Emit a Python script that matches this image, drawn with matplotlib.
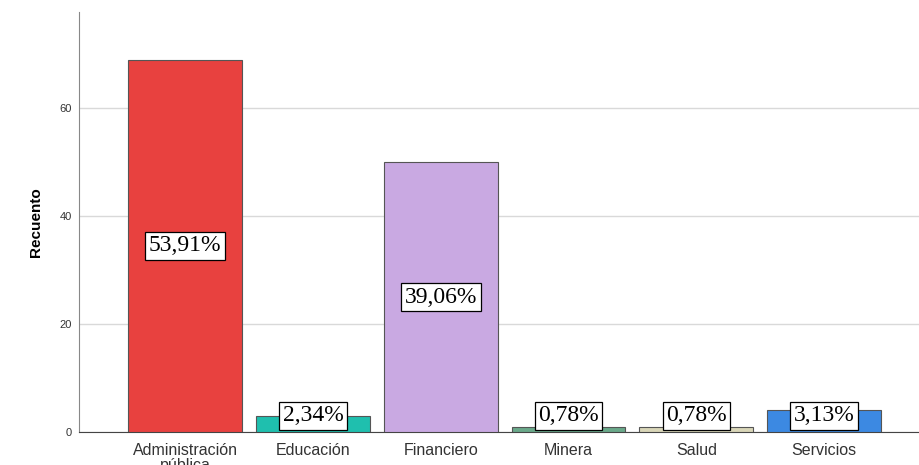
import numpy as np
import matplotlib
matplotlib.use("Agg")
import matplotlib.pyplot as plt

# Recuento por sector
SECTORES = ["Administración\npública", "Educación", "Financiero", "Minera", "Salud", "Servicios"]
RECUENTO = [69, 3, 50, 1, 1, 4]
PORCENTAJES = ["53,91%", "2,34%", "39,06%", "0,78%", "0,78%", "3,13%"]
COLORES = ["#e8413f", "#1fbfae", "#c9a9e2", "#6aa98a", "#d9d6b8", "#3c89e2"]

plt.rcParams["font.family"] = ["Liberation Sans", "DejaVu Sans"]

fig = plt.figure(figsize=(9.2, 4.65), dpi=100)
ax = fig.add_axes([0.086, 0.071, 0.914, 0.903])

xs = np.arange(len(SECTORES))
ax.bar(xs, RECUENTO, width=0.89, color=COLORES, edgecolor="#555555", linewidth=0.8, zorder=3)

for x, v, p in zip(xs, RECUENTO, PORCENTAJES):
    ax.text(x, max(v / 2, 3.0), p, ha="center", va="center", fontsize=17,
            family=["Liberation Serif", "DejaVu Serif"], color="black", zorder=4,
            bbox=dict(boxstyle="square,pad=0.15", fc="white", ec="black", lw=0.9))

ax.set_xlim(-0.83, 5.75)
ax.set_ylim(0, 77.8)
ax.set_yticks([0, 20, 40, 60])
ax.tick_params(axis="y", length=0, labelsize=8, labelcolor="#333333", pad=5)
ax.tick_params(axis="x", length=0, labelsize=11.5, labelcolor="#333333", pad=8)
ax.set_xticks(xs)
ax.set_xticklabels(SECTORES, linespacing=1.0)
ax.set_ylabel("Recuento", fontsize=11, fontweight="bold", labelpad=12)

ax.grid(axis="y", color="#d9d9d9", lw=1.0, zorder=0)
for s in ("top", "right"):
    ax.spines[s].set_visible(False)
ax.spines["left"].set_color("#888888")
ax.spines["bottom"].set_color("#444444")

fig.savefig("out.png", dpi=100)
